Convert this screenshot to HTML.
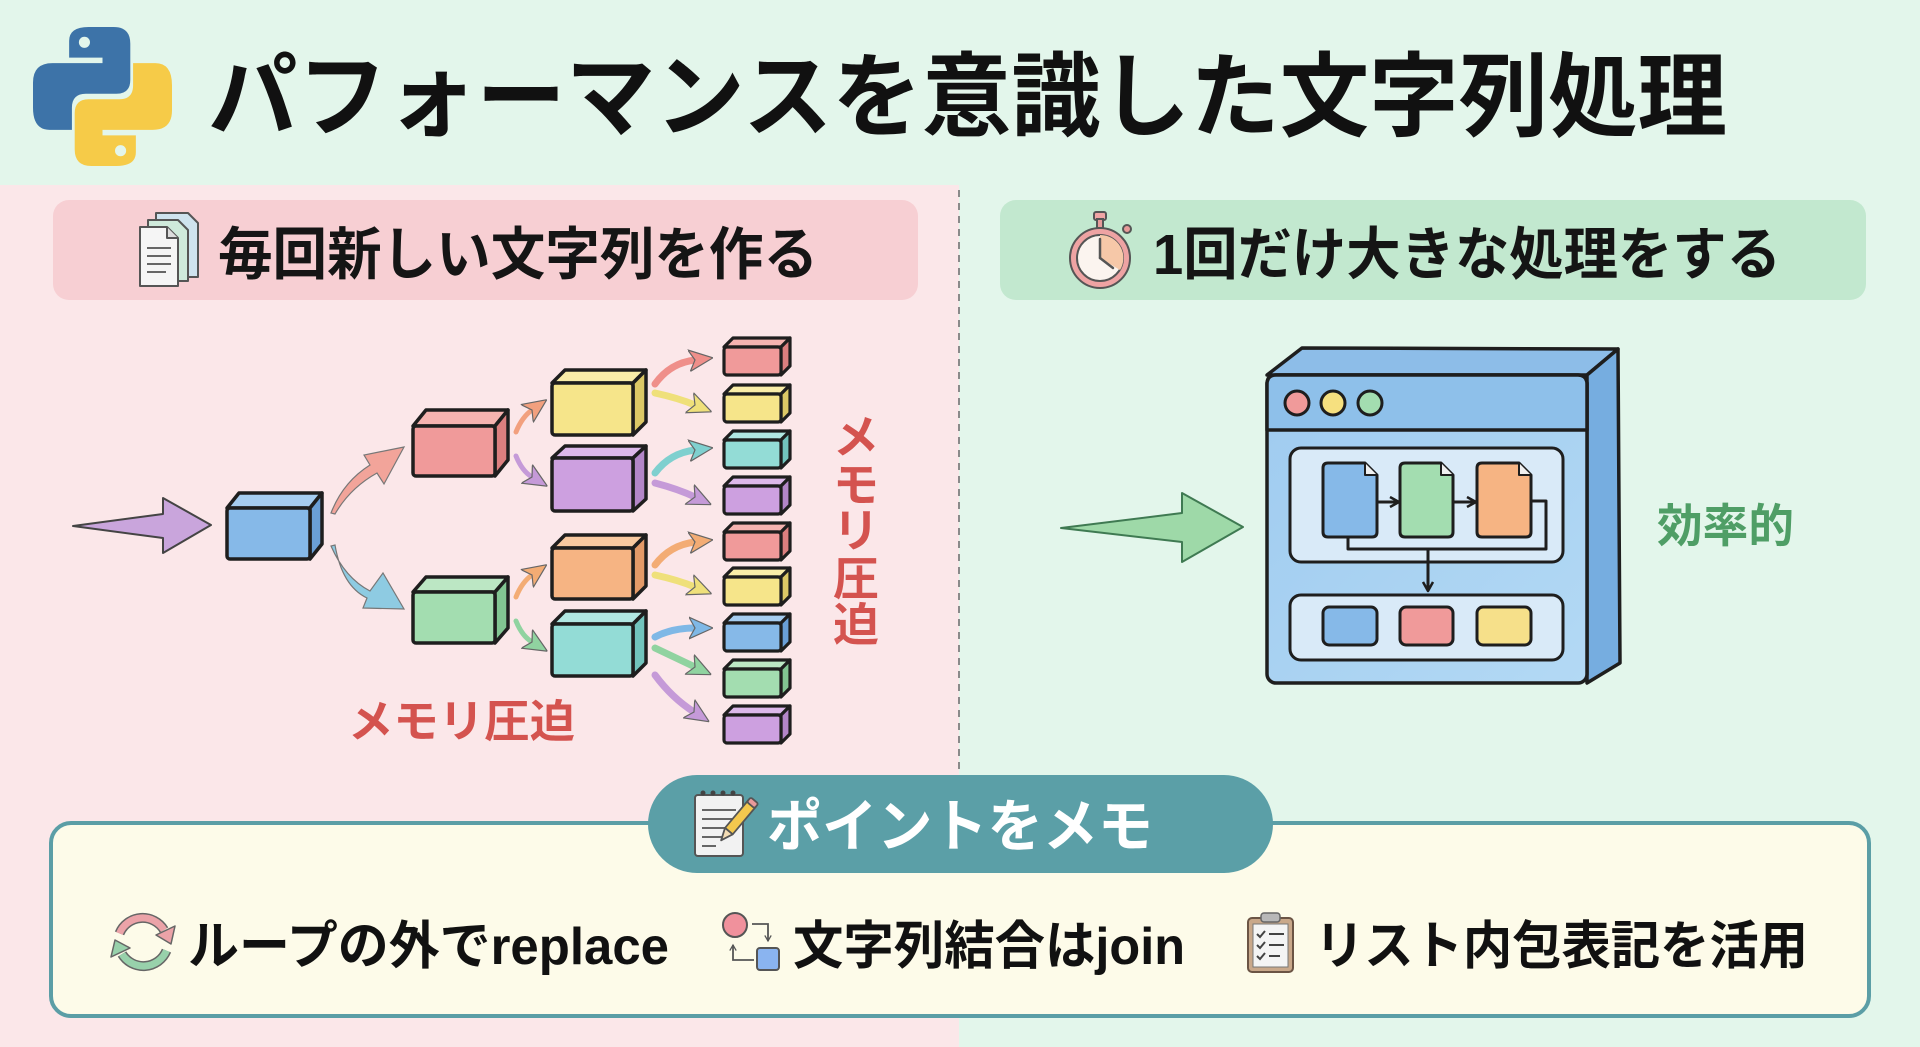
<!DOCTYPE html>
<html><head><meta charset="utf-8"><style>
html,body{margin:0;padding:0;width:1920px;height:1047px;overflow:hidden;background:#e3f6eb}
svg{display:block}
text{font-family:"Liberation Sans","Noto Sans CJK JP",sans-serif;font-weight:700}
</style></head><body>
<svg width="1920" height="1047" viewBox="0 0 1920 1047" xmlns="http://www.w3.org/2000/svg">
<defs>
<marker id="mO" viewBox="0 0 20 20" refX="5" refY="10" markerWidth="24" markerHeight="24" markerUnits="userSpaceOnUse" orient="auto"><path d="M0,1 L20,10 L0,19 L5,10 Z" fill="#f2a07e" stroke="#666" stroke-width="1"/></marker>
<marker id="mR" viewBox="0 0 20 20" refX="5" refY="10" markerWidth="24" markerHeight="24" markerUnits="userSpaceOnUse" orient="auto"><path d="M0,1 L20,10 L0,19 L5,10 Z" fill="#ef8f8a" stroke="#666" stroke-width="1"/></marker>
<marker id="mY" viewBox="0 0 20 20" refX="5" refY="10" markerWidth="24" markerHeight="24" markerUnits="userSpaceOnUse" orient="auto"><path d="M0,1 L20,10 L0,19 L5,10 Z" fill="#efe07a" stroke="#666" stroke-width="1"/></marker>
<marker id="mT" viewBox="0 0 20 20" refX="5" refY="10" markerWidth="24" markerHeight="24" markerUnits="userSpaceOnUse" orient="auto"><path d="M0,1 L20,10 L0,19 L5,10 Z" fill="#7fd0cf" stroke="#666" stroke-width="1"/></marker>
<marker id="mP" viewBox="0 0 20 20" refX="5" refY="10" markerWidth="24" markerHeight="24" markerUnits="userSpaceOnUse" orient="auto"><path d="M0,1 L20,10 L0,19 L5,10 Z" fill="#c59ad8" stroke="#666" stroke-width="1"/></marker>
<marker id="mB" viewBox="0 0 20 20" refX="5" refY="10" markerWidth="24" markerHeight="24" markerUnits="userSpaceOnUse" orient="auto"><path d="M0,1 L20,10 L0,19 L5,10 Z" fill="#7fb8e6" stroke="#666" stroke-width="1"/></marker>
<marker id="mG" viewBox="0 0 20 20" refX="5" refY="10" markerWidth="24" markerHeight="24" markerUnits="userSpaceOnUse" orient="auto"><path d="M0,1 L20,10 L0,19 L5,10 Z" fill="#90d3a0" stroke="#666" stroke-width="1"/></marker>
<marker id="mA" viewBox="0 0 20 20" refX="5" refY="10" markerWidth="24" markerHeight="24" markerUnits="userSpaceOnUse" orient="auto"><path d="M0,1 L20,10 L0,19 L5,10 Z" fill="#f3ac74" stroke="#666" stroke-width="1"/></marker>
<marker id="ah" viewBox="0 0 12 12" refX="10" refY="6" markerWidth="12" markerHeight="12" markerUnits="userSpaceOnUse" orient="auto"><path d="M1,1 L10,6 L1,11" fill="none" stroke="#1e1e1e" stroke-width="2.5" stroke-linejoin="round"/></marker>
<marker id="ahs" viewBox="0 0 10 10" refX="8" refY="5" markerWidth="8" markerHeight="8" markerUnits="userSpaceOnUse" orient="auto"><path d="M1,1 L8,5 L1,9" fill="none" stroke="#555" stroke-width="1.6"/></marker>
<linearGradient id="winF" x1="0" y1="0" x2="1" y2="1"><stop offset="0" stop-color="#9fcbf0"/><stop offset="1" stop-color="#b3d9f4"/></linearGradient>
</defs>

<rect x="0" y="0" width="1920" height="1047" fill="#e3f6eb"/>
<rect x="0" y="185" width="959" height="862" fill="#fbe7e9"/>
<line x1="959" y1="190" x2="959" y2="775" stroke="#8a8a8a" stroke-width="2" stroke-dasharray="7 6"/>

<g transform="translate(33,27) scale(1.39)">
<path d="M26 10 Q26 0 40 0 L58 0 Q70 0 70 12 L70 38 Q70 48 60 48 L38 48 Q28 48 28 58 L28 74 L12 74 Q0 74 0 58 L0 40 Q0 26 14 26 L50 26 L50 22 L26 22 Z" fill="#3d73a8"/>
<circle cx="37" cy="11" r="4" fill="#e3f6eb"/>
<g transform="rotate(180 50 50)">
<path d="M26 10 Q26 0 40 0 L58 0 Q70 0 70 12 L70 38 Q70 48 60 48 L38 48 Q28 48 28 58 L28 74 L12 74 Q0 74 0 58 L0 40 Q0 26 14 26 L50 26 L50 22 L26 22 Z" fill="#f6cb48"/>
<circle cx="37" cy="11" r="4" fill="#e3f6eb"/>
</g>
</g>

<text x="208" y="129" font-size="92" fill="#111" textLength="1519" lengthAdjust="spacingAndGlyphs">パフォーマンスを意識した文字列処理</text>

<rect x="53" y="200" width="865" height="100" rx="16" fill="#f7cfd3"/>
<rect x="1000" y="200" width="866" height="100" rx="16" fill="#c2e8cf"/>

<g stroke="#555" stroke-width="2" stroke-linejoin="round">
<path d="M156 213 L188 213 L198 223 L198 277 L156 277 Z" fill="#cfe3ee"/>
<path d="M148 220 L178 220 L188 230 L188 281 L148 281 Z" fill="#cfeadb"/>
<path d="M140 227 L167 227 L178 238 L178 286 L140 286 Z" fill="#f5f5f5"/>
<path d="M167 227 L167 238 L178 238" fill="#ddd"/>
</g>
<g stroke="#666" stroke-width="2"><line x1="147" y1="248" x2="171" y2="248"/><line x1="147" y1="256" x2="171" y2="256"/><line x1="147" y1="264" x2="171" y2="264"/><line x1="147" y1="272" x2="166" y2="272"/></g>
<text x="218" y="274" font-size="57" fill="#151515" textLength="600" lengthAdjust="spacingAndGlyphs">毎回新しい文字列を作る</text>

<g stroke="#555" stroke-width="2">
<rect x="1094" y="212" width="12" height="8" rx="2" fill="#f0a5a5"/>
<rect x="1097" y="219" width="6" height="9" fill="#e89a9a"/>
<circle cx="1127" cy="229" r="4" fill="#e89a9a"/>
<circle cx="1100" cy="258" r="30" fill="#eea3a3"/>
<circle cx="1100" cy="258" r="23" fill="#fbf4ef"/>
</g>
<path d="M1100 235 A23 23 0 0 1 1120 270 L1100 258 Z" fill="#f6c8a8"/>
<g stroke="#555" stroke-width="2.5" stroke-linecap="round"><line x1="1100" y1="258" x2="1100" y2="239"/><line x1="1100" y1="258" x2="1113" y2="268"/></g>
<text x="1153" y="274" font-size="57" fill="#151515" textLength="628" lengthAdjust="spacingAndGlyphs">1回だけ大きな処理をする</text>

<path d="M73 526 L163 514 L163 498 L211 525 L163 553 L163 538 Z" fill="#c9a5dc" stroke="#444" stroke-width="2" stroke-linejoin="round"/>

<path d="M331 513 Q343 482 370 465 L364 455 L404 447 L384 484 L377 473 Q350 488 335 514 Z" fill="#f2a49a" stroke="#777" stroke-width="1.2"/>
<path d="M331 546 Q345 578 370 591 L383 573 L404 609 L363 608 L367 598 Q342 586 335 545 Z" fill="#8ecbe2" stroke="#777" stroke-width="1.2"/>

<g fill="none" stroke-width="5" stroke-linecap="round">
<path d="M516 432 Q522 417 532 410" stroke="#f2a07e" marker-end="url(#mO)"/>
<path d="M516 456 Q522 471 532 477" stroke="#c59ad8" marker-end="url(#mP)"/>
<path d="M516 597 Q522 582 532 575" stroke="#f3ac74" marker-end="url(#mA)"/>
<path d="M516 621 Q522 636 532 642" stroke="#90d3a0" marker-end="url(#mG)"/>
</g>

<g fill="none" stroke-width="7" stroke-linecap="round">
<path d="M655 384 Q670 363 695 360" stroke="#ef8f8a" marker-end="url(#mR)"/>
<path d="M655 393 Q678 398 695 405" stroke="#efe07a" marker-end="url(#mY)"/>
<path d="M655 473 Q670 453 695 450" stroke="#7fd0cf" marker-end="url(#mT)"/>
<path d="M655 483 Q678 489 695 497" stroke="#c59ad8" marker-end="url(#mP)"/>
<path d="M655 565 Q670 545 695 542" stroke="#f3ac74" marker-end="url(#mA)"/>
<path d="M655 575 Q678 580 695 587" stroke="#efe07a" marker-end="url(#mY)"/>
<path d="M655 637 Q672 628 695 628" stroke="#7fb8e6" marker-end="url(#mB)"/>
<path d="M655 648 Q678 659 695 667" stroke="#90d3a0" marker-end="url(#mG)"/>
<path d="M655 675 Q672 698 694 712" stroke="#c59ad8" marker-end="url(#mP)"/>
</g>

<g stroke="#1e1e1e" stroke-width="3.5" stroke-linejoin="round">
<polygon points="227,508 239,493 322,493 310,508" fill="#a6cdf0"/><polygon points="310,508 322,493 322,544 310,559" fill="#6a9fd6"/><rect x="227" y="508" width="83" height="51" rx="3" fill="#86b9e8"/>
<polygon points="413,426 426,410 508,410 495,426" fill="#f5b3b0"/><polygon points="495,426 508,410 508,460 495,476" fill="#db7f7f"/><rect x="413" y="426" width="82" height="50" rx="3" fill="#f09a9a"/>
<polygon points="413,592 426,577 508,577 495,592" fill="#bce7c4"/><polygon points="495,592 508,577 508,628 495,643" fill="#82c592"/><rect x="413" y="592" width="82" height="51" rx="3" fill="#a3ddb0"/>
<polygon points="552,383 565,370 646,370 633,383" fill="#f9eda8"/><polygon points="633,383 646,370 646,422 633,435" fill="#dcc866"/><rect x="552" y="383" width="81" height="52" rx="3" fill="#f6e58a"/>
<polygon points="552,458 565,446 646,446 633,458" fill="#dcb8ea"/><polygon points="633,458 646,446 646,499 633,511" fill="#b386c8"/><rect x="552" y="458" width="81" height="53" rx="3" fill="#cda0e0"/>
<polygon points="552,548 565,535 646,535 633,548" fill="#f8c9a0"/><polygon points="633,548 646,535 646,586 633,599" fill="#e39a68"/><rect x="552" y="548" width="81" height="51" rx="3" fill="#f6b483"/>
<polygon points="552,624 565,611 646,611 633,624" fill="#b1e7e2"/><polygon points="633,624 646,611 646,663 633,676" fill="#72c4bd"/><rect x="552" y="624" width="81" height="52" rx="3" fill="#93dcd6"/>
</g>
<g stroke="#1e1e1e" stroke-width="3.2" stroke-linejoin="round">
<polygon points="724,347 733,338 790,338 781,347" fill="#f5b3b0"/><polygon points="781,347 790,338 790,366 781,375" fill="#db7f7f"/><rect x="724" y="347" width="57" height="28" rx="3" fill="#f09a9a"/>
<polygon points="724,394 733,385 790,385 781,394" fill="#f9eda8"/><polygon points="781,394 790,385 790,413 781,422" fill="#dcc866"/><rect x="724" y="394" width="57" height="28" rx="3" fill="#f6e58a"/>
<polygon points="724,440 733,431 790,431 781,440" fill="#b1e7e2"/><polygon points="781,440 790,431 790,459 781,468" fill="#72c4bd"/><rect x="724" y="440" width="57" height="28" rx="3" fill="#93dcd6"/>
<polygon points="724,486 733,477 790,477 781,486" fill="#dcb8ea"/><polygon points="781,486 790,477 790,505 781,514" fill="#b386c8"/><rect x="724" y="486" width="57" height="28" rx="3" fill="#cda0e0"/>
<polygon points="724,532 733,523 790,523 781,532" fill="#f5b3b0"/><polygon points="781,532 790,523 790,551 781,560" fill="#db7f7f"/><rect x="724" y="532" width="57" height="28" rx="3" fill="#f09a9a"/>
<polygon points="724,577 733,568 790,568 781,577" fill="#f9eda8"/><polygon points="781,577 790,568 790,596 781,605" fill="#dcc866"/><rect x="724" y="577" width="57" height="28" rx="3" fill="#f6e58a"/>
<polygon points="724,623 733,614 790,614 781,623" fill="#a6cdf0"/><polygon points="781,623 790,614 790,642 781,651" fill="#6a9fd6"/><rect x="724" y="623" width="57" height="28" rx="3" fill="#86b9e8"/>
<polygon points="724,669 733,660 790,660 781,669" fill="#bce7c4"/><polygon points="781,669 790,660 790,688 781,697" fill="#82c592"/><rect x="724" y="669" width="57" height="28" rx="3" fill="#a3ddb0"/>
<polygon points="724,715 733,706 790,706 781,715" fill="#dcb8ea"/><polygon points="781,715 790,706 790,734 781,743" fill="#b386c8"/><rect x="724" y="715" width="57" height="28" rx="3" fill="#cda0e0"/>
</g>

<text x="348" y="737" font-size="45" fill="#d4534f" textLength="227" lengthAdjust="spacingAndGlyphs">メモリ圧迫</text>
<g font-size="46" fill="#d4534f" text-anchor="middle">
<text x="856" y="453">メ</text>
<text x="856" y="501">モ</text>
<text x="856" y="547">リ</text>
<text x="856" y="595">圧</text>
<text x="856" y="641">迫</text>
</g>

<path d="M1061 528 L1182 513 L1182 493 L1243 527 L1182 562 L1182 542 Z" fill="#9ed9a8" stroke="#3f7a52" stroke-width="2" stroke-linejoin="round"/>

<g stroke="#1e1e1e" stroke-width="3.5" stroke-linejoin="round">
<polygon points="1267,375 1302,348 1618,349 1587,375" fill="#8dbde8"/>
<polygon points="1587,375 1618,349 1620,663 1587,683" fill="#76ade0"/>
<rect x="1267" y="375" width="320" height="308" rx="9" fill="url(#winF)"/>
<path d="M1276 375 L1578 375 Q1587 375 1587 384 L1587 430 L1267 430 L1267 384 Q1267 375 1276 375 Z" fill="#8ec0ea"/>
</g>
<g stroke="#1e1e1e" stroke-width="3">
<circle cx="1297" cy="403" r="12" fill="#f09a9a"/>
<circle cx="1333" cy="403" r="12" fill="#f6e07f"/>
<circle cx="1370" cy="403" r="12" fill="#a3ddb0"/>
<rect x="1290" y="448" width="273" height="114" rx="11" fill="#d9eaf8"/>
<rect x="1290" y="595" width="273" height="65" rx="11" fill="#d9eaf8"/>
</g>
<g fill="none" stroke="#1e1e1e" stroke-width="3" stroke-linejoin="round">
<polyline points="1348,537 1348,549 1546,549 1546,501 1531,501"/>
<line x1="1428" y1="549" x2="1428" y2="591" marker-end="url(#ah)"/>
<line x1="1377" y1="502" x2="1399" y2="502" marker-end="url(#ah)"/>
<line x1="1453" y1="502" x2="1476" y2="502" marker-end="url(#ah)"/>
</g>
<g stroke="#1e1e1e" stroke-width="3" stroke-linejoin="round">
<path d="M1328 463 L1365 463 L1377 475 L1377 532 Q1377 537 1372 537 L1328 537 Q1323 537 1323 532 L1323 468 Q1323 463 1328 463 Z" fill="#86b9e8"/>
<path d="M1365 463 L1365 475 L1377 475" fill="#f0f0f0" stroke-width="2"/>
<path d="M1405 463 L1441 463 L1453 475 L1453 532 Q1453 537 1448 537 L1405 537 Q1400 537 1400 532 L1400 468 Q1400 463 1405 463 Z" fill="#a3ddb0"/>
<path d="M1441 463 L1441 475 L1453 475" fill="#f0f0f0" stroke-width="2"/>
<path d="M1482 463 L1519 463 L1531 475 L1531 532 Q1531 537 1526 537 L1482 537 Q1477 537 1477 532 L1477 468 Q1477 463 1482 463 Z" fill="#f6b483"/>
<path d="M1519 463 L1519 475 L1531 475" fill="#f0f0f0" stroke-width="2"/>
<rect x="1323" y="607" width="54" height="38" rx="6" fill="#86b9e8"/>
<rect x="1400" y="607" width="53" height="38" rx="6" fill="#f09a9a"/>
<rect x="1477" y="607" width="54" height="38" rx="6" fill="#f6e08a"/>
</g>
<text x="1657" y="542" font-size="46" fill="#4f9e66" textLength="137" lengthAdjust="spacingAndGlyphs">効率的</text>

<rect x="51" y="823" width="1818" height="193" rx="20" fill="#fdfbe9" stroke="#5b9ea6" stroke-width="4"/>
<rect x="648" y="775" width="625" height="98" rx="49" fill="#5b9fa7"/>

<g stroke="#555" stroke-width="2">
<rect x="695" y="795" width="48" height="61" rx="3" fill="#f2f2f2"/>
</g>
<g fill="#444"><circle cx="703" cy="793" r="2.5"/><circle cx="713" cy="793" r="2.5"/><circle cx="723" cy="793" r="2.5"/><circle cx="733" cy="793" r="2.5"/></g>
<g stroke="#666" stroke-width="2"><line x1="702" y1="810" x2="736" y2="810"/><line x1="702" y1="819" x2="736" y2="819"/><line x1="702" y1="828" x2="730" y2="828"/><line x1="702" y1="837" x2="722" y2="837"/><line x1="702" y1="846" x2="716" y2="846"/></g>
<g transform="rotate(40 734 825)" stroke="#555" stroke-width="1.8" stroke-linejoin="round">
<rect x="729" y="797" width="10" height="36" fill="#f4c84e"/>
<rect x="729" y="793" width="10" height="6" rx="2" fill="#e99a9a"/>
<polygon points="729,833 739,833 734,845" fill="#f3dcb4"/>
</g>
<text x="767" y="846" font-size="57" fill="#ffffff" textLength="386" lengthAdjust="spacingAndGlyphs">ポイントをメモ</text>

<g fill="none" stroke-linecap="butt">
<path d="M119.5 933.4 A25 25 0 0 1 164 930" stroke="#666" stroke-width="10"/>
<path d="M119.5 933.4 A25 25 0 0 1 164 930" stroke="#eba3a8" stroke-width="7"/>
<path d="M166.5 950.6 A25 25 0 0 1 122 954" stroke="#666" stroke-width="10"/>
<path d="M166.5 950.6 A25 25 0 0 1 122 954" stroke="#98d1ab" stroke-width="7"/>
</g>
<polygon points="175,926 156,935 171,944" fill="#eba3a8" stroke="#666" stroke-width="1.5" stroke-linejoin="round"/>
<polygon points="130,948 111,957 115,940" fill="#98d1ab" stroke="#666" stroke-width="1.5" stroke-linejoin="round"/>
<text x="188" y="964" font-size="52" fill="#111" textLength="481" lengthAdjust="spacingAndGlyphs">ループの外でreplace</text>

<circle cx="735" cy="925" r="12" fill="#f0919c" stroke="#555" stroke-width="2"/>
<rect x="757" y="948" width="22" height="22" rx="3" fill="#8ab4f0" stroke="#555" stroke-width="2"/>
<path d="M752 924 L768 924 L768 941" fill="none" stroke="#555" stroke-width="1.8" marker-end="url(#ahs)"/>
<path d="M754 960 L733 960 L733 945" fill="none" stroke="#555" stroke-width="1.8" marker-end="url(#ahs)"/>
<text x="793" y="964" font-size="52" fill="#111" textLength="392" lengthAdjust="spacingAndGlyphs">文字列結合はjoin</text>

<rect x="1248" y="918" width="45" height="54" rx="4" fill="#c9a88a" stroke="#6b5444" stroke-width="2"/>
<rect x="1253" y="924" width="35" height="43" fill="#f4f4f4" stroke="#777" stroke-width="1"/>
<rect x="1261" y="913" width="19" height="9" rx="3" fill="#b8b8b8" stroke="#666" stroke-width="1.5"/>
<g fill="none" stroke="#444" stroke-width="2">
<path d="M1257 934 L1260 937 L1265 931"/><path d="M1257 945 L1260 948 L1265 942"/><path d="M1257 956 L1260 959 L1265 953"/>
<line x1="1269" y1="934" x2="1284" y2="934"/><line x1="1269" y1="945" x2="1284" y2="945"/><line x1="1269" y1="956" x2="1280" y2="956"/>
</g>
<text x="1315" y="964" font-size="52" fill="#111" textLength="493" lengthAdjust="spacingAndGlyphs">リスト内包表記を活用</text>
</svg>
</body></html>
